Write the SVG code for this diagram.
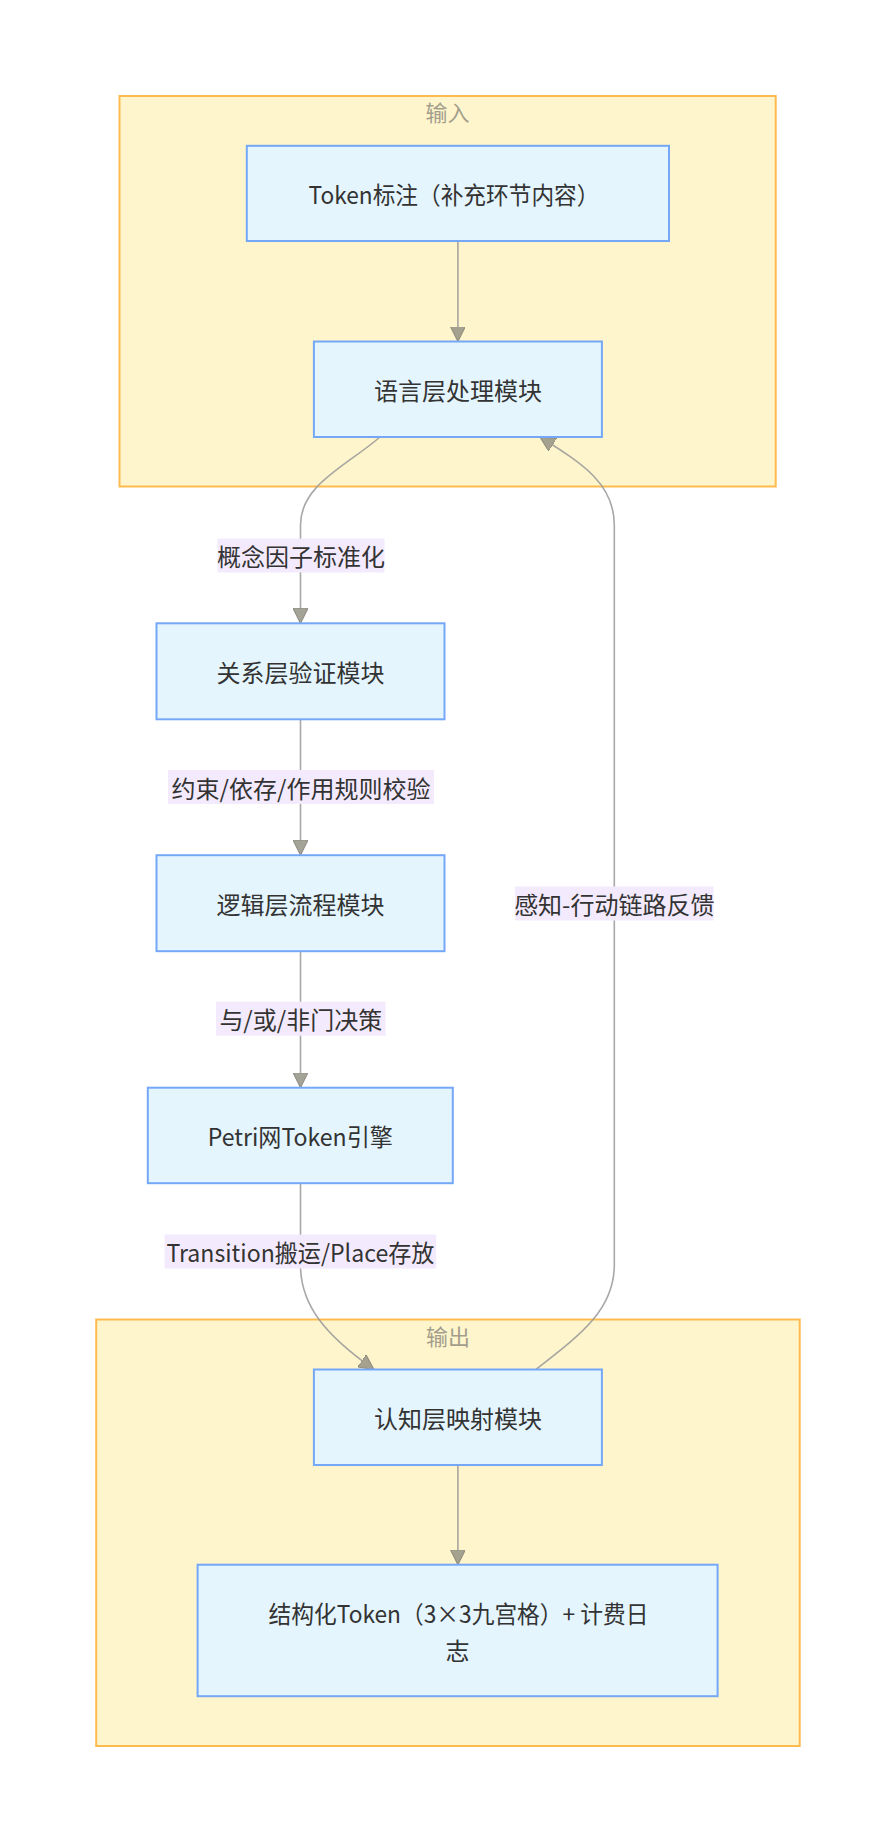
<svg xmlns="http://www.w3.org/2000/svg" width="896" height="1844" viewBox="0 0 896 1844">
<style>
.cluster rect{fill:#fff5cc;stroke:#fdbb4f;stroke-width:2}
.ctitle{font-family:"Noto Sans CJK SC",sans-serif;font-size:22px;fill:#a39e8c;text-anchor:middle;dominant-baseline:central}
.node rect{fill:#e4f5fe;stroke:#74a8f7;stroke-width:2}
.node text,.elabel text{font-family:"Noto Sans CJK SC",sans-serif;font-size:24px;fill:#333;text-anchor:middle;dominant-baseline:central}
.edges path{fill:none;stroke:#999;stroke-width:1.6}
.elabel rect{fill:#f3ebfd}
</style>
<defs>
<marker id="arrow" viewBox="0 0 10 10" refX="10" refY="5" markerUnits="userSpaceOnUse" markerWidth="15" markerHeight="15" orient="auto">
<path d="M0,0 L10,5 L0,10 z" fill="#959385" stroke="#7d7b70" stroke-width="0.7"/>
</marker>
</defs>
<rect width="896" height="1844" fill="#fff"/>
<g id="cluster-input" class="cluster">
<rect x="119.5" y="96" width="656.2" height="390.5"/>
<text class="ctitle" x="447.6" y="111">输入</text>
</g>
<g id="cluster-output" class="cluster">
<rect x="96.2" y="1319.5" width="703.5" height="426.5"/>
<text class="ctitle" x="448" y="1335">输出</text>
</g>
<g id="edges" class="edges" opacity="0.85">
<path d="M457.9,241 L457.9,341.5" marker-end="url(#arrow)"/>
<path d="M380,437 C345,467 300.5,485 300.5,525 L300.5,623.3" marker-end="url(#arrow)"/>
<path d="M300.5,719.3 L300.5,855.2" marker-end="url(#arrow)"/>
<path d="M300.5,951.2 L300.5,1087.7" marker-end="url(#arrow)"/>
<path d="M300.5,1183.2 L300.5,1265 C300.5,1305 325,1335 374,1369.5" marker-end="url(#arrow)"/>
<path d="M536,1369.5 C580,1335 614.3,1310 614.3,1265 L614.3,525 C614.3,485 585,465 540,437" marker-end="url(#arrow)"/>
<path d="M457.9,1465 L457.9,1564.7" marker-end="url(#arrow)"/>
</g>
<g id="edge-labels">
<g class="elabel"><rect x="217.5" y="538.5" width="167" height="34"/><text x="301" y="555.5">概念因子标准化</text></g>
<g class="elabel"><rect x="168" y="770" width="266" height="34"/><text x="301" y="787">约束/依存/作用规则校验</text></g>
<g class="elabel"><rect x="216" y="1001.7" width="169.6" height="34"/><text x="300.8" y="1018.7">与/或/非门决策</text></g>
<g class="elabel"><rect x="164.6" y="1234.5" width="271.6" height="34"/><text x="300.4" y="1251.5" textLength="268" lengthAdjust="spacingAndGlyphs">Transition搬运/Place存放</text></g>
<g class="elabel"><rect x="515" y="886.5" width="198.6" height="34"/><text x="614.3" y="903.5">感知-行动链路反馈</text></g>
</g>
<g id="node-token" class="node"><rect x="246.8" y="145.8" width="422.2" height="95.2"/><text x="454" y="193.4" textLength="291" lengthAdjust="spacingAndGlyphs">Token标注（补充环节内容）</text></g>
<g id="node-language" class="node"><rect x="313.9" y="341.5" width="288" height="95.5"/><text x="457.9" y="389.3">语言层处理模块</text></g>
<g id="node-relation" class="node"><rect x="156.5" y="623.3" width="288" height="96"/><text x="300.5" y="671.3">关系层验证模块</text></g>
<g id="node-logic" class="node"><rect x="156.5" y="855.2" width="288" height="96"/><text x="300.5" y="903.2">逻辑层流程模块</text></g>
<g id="node-petri" class="node"><rect x="147.8" y="1087.7" width="305" height="95.5"/><text x="300.3" y="1135.4" textLength="185" lengthAdjust="spacingAndGlyphs">Petri网Token引擎</text></g>
<g id="node-cognition" class="node"><rect x="313.9" y="1369.5" width="288" height="95.5"/><text x="457.9" y="1417.2">认知层映射模块</text></g>
<g id="node-output" class="node"><rect x="197.6" y="1564.7" width="520" height="131.5"/><text x="458.5" y="1612" textLength="380" lengthAdjust="spacingAndGlyphs">结构化Token（3×3九宫格）+ 计费日</text><text x="457.6" y="1649">志</text></g>
</svg>
